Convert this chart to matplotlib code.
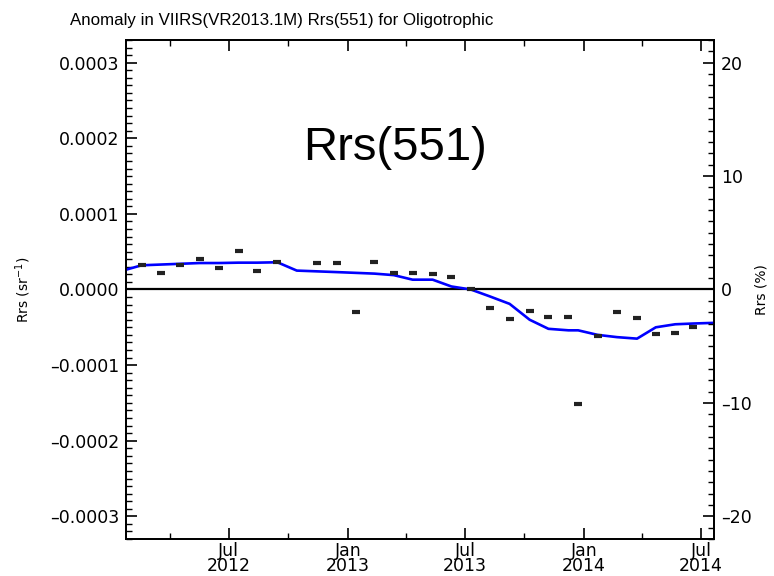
import numpy as np
import pandas as pd
import matplotlib
matplotlib.use("Agg")
import matplotlib.pyplot as plt
import matplotlib.dates as mdates
from matplotlib.ticker import MultipleLocator, FixedLocator

plt.rcParams['font.family'] = ['DejaVu Sans']

#monthly anomaly points (units of 1e-5 sr^-1)
pointDates = ["2012-02-17", "2012-03-18", "2012-04-17", "2012-05-17", "2012-06-16",
              "2012-07-16", "2012-08-14", "2012-09-14", "2012-11-14", "2012-12-15",
              "2013-01-13", "2013-02-11", "2013-03-13", "2013-04-11", "2013-05-12",
              "2013-06-10", "2013-07-10", "2013-08-08", "2013-09-08", "2013-10-09",
              "2013-11-07", "2013-12-08", "2013-12-23", "2014-01-22", "2014-02-21",
              "2014-03-24", "2014-04-22", "2014-05-22", "2014-06-19"]
pointValues = [3.3, 2.2, 3.2, 4.0, 2.9,
               5.1, 2.4, 3.7, 3.5, 3.5,
               -3.0, 3.6, 2.2, 2.2, 2.0,
               1.6, 0.0, -2.5, -3.9, -2.8,
               -3.6, -3.7, -15.1, -6.1, -3.0,
               -3.8, -5.9, -5.7, -5.0]

#smoothed anomaly (blue line)
lineDates = ["2012-01-15", "2012-02-17", "2012-03-18", "2012-04-17", "2012-05-17",
             "2012-06-16", "2012-07-16", "2012-08-14", "2012-09-14", "2012-10-14",
             "2012-11-14", "2012-12-15", "2013-01-13", "2013-02-11", "2013-03-13",
             "2013-04-11", "2013-05-12", "2013-06-10", "2013-07-10", "2013-08-08",
             "2013-09-08", "2013-10-09", "2013-11-07", "2013-12-08", "2013-12-23",
             "2014-01-22", "2014-02-21", "2014-03-24", "2014-04-22", "2014-05-22",
             "2014-06-19", "2014-07-25"]
lineValues = [2.4, 3.2, 3.3, 3.4, 3.5,
              3.5, 3.55, 3.55, 3.6, 2.5,
              2.4, 2.3, 2.2, 2.1, 1.9,
              1.3, 1.3, 0.4, 0.0, -0.9,
              -1.9, -4.0, -5.2, -5.4, -5.4,
              -6.0, -6.3, -6.5, -5.0, -4.6,
              -4.5, -4.4]

title = "Anomaly in VIIRS(VR2013.1M) Rrs(551) for Oligotrophic"
leftTicks = [-0.0003, -0.0002, -0.0001, 0.0, 0.0001, 0.0002, 0.0003]
rightTicks = [-20, -10, 0, 10, 20]
meanRrs = 0.0003 / 20 * 100  #0.0003 sr^-1 equals 20 %

pDates = pd.to_datetime(pointDates)
lDates = pd.to_datetime(lineDates)
pVals = np.array(pointValues) * 1e-5
lVals = np.array(lineValues) * 1e-5

fig = plt.figure(figsize=(7.74, 5.76), dpi=100)
ax = fig.add_axes([0.1628, 0.0642, 0.7597, 0.8664])

ax.axhline(0, color="black", lw=1.6, zorder=2)
ax.plot(lDates, lVals, color="#0000ff", lw=1.9, zorder=3)
ax.plot(pDates, pVals, ls="none", marker="_", ms=6, mew=3, color="#222222", zorder=4)

ax.set_xlim(pd.Timestamp("2012-01-24"), pd.Timestamp("2014-07-21"))
ax.set_ylim(-0.00033, 0.00033)

#date ticks
ax.xaxis.set_major_locator(mdates.MonthLocator(bymonth=[1, 7]))
ax.xaxis.set_minor_locator(mdates.MonthLocator(bymonth=[4, 10]))
ax.xaxis.set_major_formatter(mdates.DateFormatter("%b\n%Y"))

ax.yaxis.set_major_locator(FixedLocator(leftTicks))
ax.yaxis.set_minor_locator(MultipleLocator(0.00001))
ax.set_yticklabels(["%.4f" % t if t >= 0 else "\u2013%.4f" % -t for t in leftTicks])

ax.tick_params(axis="both", which="major", direction="in", length=8, width=1.2,
               labelsize=12.5, top=True, right=False)
ax.tick_params(axis="both", which="minor", direction="in", length=4, width=1.0,
               top=True, right=False)
ax.tick_params(axis="x", which="major", pad=2)
ax.tick_params(axis="y", which="major", pad=5)
for lab in ax.get_xticklabels():
    lab.set_linespacing(0.8)

ax.set_ylabel("Rrs (sr$^{-1}$)", fontsize=10, labelpad=12)

#right axis in percent
ax2 = ax.twinx()
ax2.set_ylim(-0.00033 / meanRrs * 100, 0.00033 / meanRrs * 100)
ax2.yaxis.set_major_locator(FixedLocator(rightTicks))
ax2.yaxis.set_minor_locator(MultipleLocator(1))
ax2.set_yticklabels([str(t) if t >= 0 else "\u2013%d" % -t for t in rightTicks])
ax2.tick_params(axis="y", which="major", direction="in", length=8, width=1.2,
                labelsize=12.5, pad=5)
ax2.tick_params(axis="y", which="minor", direction="in", length=4, width=1.0)
ax2.set_ylabel("Rrs (%)", fontsize=10, labelpad=2)

for a in (ax, ax2):
    for s in a.spines.values():
        s.set_linewidth(1.3)

fig.text(282 / 774, 1 - 20 / 576, title, ha="center", va="center", fontsize=12.2,
         family="Liberation Sans")
ax.text(0.457, 0.784, "Rrs(551)", transform=ax.transAxes, ha="center", va="center",
        fontsize=34, family="Liberation Sans")

fig.savefig("out.png", dpi=100)
